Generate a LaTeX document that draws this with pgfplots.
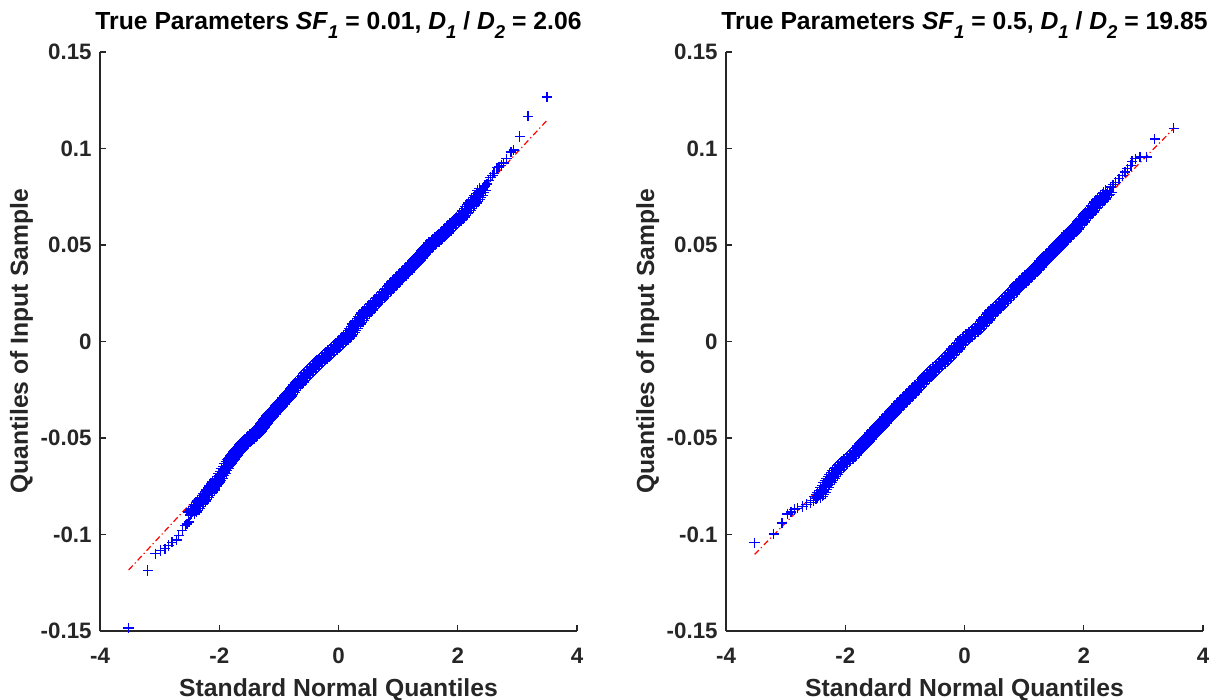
\documentclass[border=0pt]{standalone}
\usepackage{fontspec}
\setmainfont{Liberation Sans}
\usepackage{pgfplots}
\usepackage{pgfplotstable}
\pgfplotsset{compat=1.18}
\definecolor{axgray}{RGB}{38,38,38}
\definecolor{qqblue}{RGB}{0,0,255}
\definecolor{qqred}{RGB}{255,0,0}
\newcommand\sub[1]{\raisebox{-4.5bp}{\fontsize{9.3}{10}\selectfont\bfseries\itshape #1}}

% Left panel: sparse tails and dense middle
\pgfplotstableread{
x y
-3.52 -0.1485
-3.20 -0.1187
-3.07 -0.1100
-2.99 -0.1083
-2.91 -0.1074
-2.85 -0.1057
-2.79 -0.1040
-2.72 -0.1028
-2.68 -0.1005
-2.62 -0.0980
-2.57 -0.0953
-2.54 -0.0945
-2.51 -0.0936
-2.48 -0.0900
2.44 0.0800
2.46 0.0806
2.49 0.0817
2.52 0.0835
2.55 0.0851
2.58 0.0860
2.61 0.0872
2.66 0.0900
2.69 0.0905
2.73 0.0912
2.77 0.0925
2.82 0.0947
2.89 0.0981
2.94 0.0993
3.04 0.1062
3.18 0.1167
3.50 0.1266
}\lefttail
\pgfplotstableread{
x y
-2.45 -0.0883
-2.40 -0.0864
-2.35 -0.0845
-2.30 -0.0827
-2.25 -0.0807
-2.20 -0.0787
-2.15 -0.0769
-2.10 -0.0749
-2.05 -0.0729
-2.00 -0.0709
-1.95 -0.0684
-1.90 -0.0658
-1.85 -0.0633
-1.80 -0.0611
-1.75 -0.0591
-1.70 -0.0571
-1.65 -0.0553
-1.60 -0.0535
-1.55 -0.0520
-1.50 -0.0505
-1.45 -0.0492
-1.40 -0.0479
-1.35 -0.0463
-1.30 -0.0445
-1.25 -0.0425
-1.20 -0.0405
-1.15 -0.0387
-1.10 -0.0369
-1.05 -0.0352
-1.00 -0.0335
-0.95 -0.0317
-0.90 -0.0300
-0.85 -0.0282
-0.80 -0.0264
-0.75 -0.0245
-0.70 -0.0226
-0.65 -0.0209
-0.60 -0.0192
-0.55 -0.0177
-0.50 -0.0161
-0.45 -0.0145
-0.40 -0.0130
-0.35 -0.0115
-0.30 -0.0101
-0.25 -0.0086
-0.20 -0.0071
-0.15 -0.0058
-0.10 -0.0044
-0.05 -0.0031
0.00 -0.0017
0.05 -0.0002
0.10 0.0012
0.15 0.0029
0.20 0.0047
0.25 0.0068
0.30 0.0090
0.35 0.0110
0.40 0.0130
0.45 0.0147
0.50 0.0164
0.55 0.0180
0.60 0.0195
0.65 0.0211
0.70 0.0226
0.75 0.0242
0.80 0.0259
0.85 0.0274
0.90 0.0290
0.95 0.0305
1.00 0.0322
1.05 0.0338
1.10 0.0353
1.15 0.0369
1.20 0.0384
1.25 0.0400
1.30 0.0417
1.35 0.0433
1.40 0.0452
1.45 0.0470
1.50 0.0487
1.55 0.0502
1.60 0.0514
1.65 0.0528
1.70 0.0541
1.75 0.0556
1.80 0.0571
1.85 0.0585
1.90 0.0600
1.95 0.0614
2.00 0.0630
2.05 0.0646
2.10 0.0662
2.15 0.0680
2.20 0.0698
2.25 0.0717
2.30 0.0737
2.35 0.0757
2.40 0.0782
}\leftdense

% Right panel
\pgfplotstableread{
x y
-3.52 -0.1043
-3.20 -0.0997
-3.06 -0.0940
-2.97 -0.0893
-2.91 -0.0884
-2.85 -0.0870
-2.80 -0.0864
-2.72 -0.0855
-2.65 -0.0845
-2.58 -0.0834
-2.53 -0.0824
-2.49 -0.0815
2.45 0.0800
2.49 0.0812
2.53 0.0825
2.59 0.0843
2.65 0.0860
2.69 0.0878
2.73 0.0895
2.79 0.0912
2.81 0.0933
2.87 0.0947
2.94 0.0955
3.05 0.0955
3.19 0.1050
3.51 0.1105
}\righttail
\pgfplotstableread{
x y
-2.45 -0.0802
-2.40 -0.0782
-2.35 -0.0758
-2.30 -0.0732
-2.25 -0.0710
-2.20 -0.0689
-2.15 -0.0669
-2.10 -0.0652
-2.05 -0.0637
-2.00 -0.0622
-1.95 -0.0608
-1.90 -0.0595
-1.85 -0.0580
-1.80 -0.0564
-1.75 -0.0548
-1.70 -0.0532
-1.65 -0.0515
-1.60 -0.0498
-1.55 -0.0482
-1.50 -0.0465
-1.45 -0.0448
-1.40 -0.0432
-1.35 -0.0415
-1.30 -0.0398
-1.25 -0.0382
-1.20 -0.0365
-1.15 -0.0348
-1.10 -0.0331
-1.05 -0.0316
-1.00 -0.0300
-0.95 -0.0284
-0.90 -0.0269
-0.85 -0.0254
-0.80 -0.0239
-0.75 -0.0224
-0.70 -0.0207
-0.65 -0.0190
-0.60 -0.0174
-0.55 -0.0160
-0.50 -0.0145
-0.45 -0.0131
-0.40 -0.0118
-0.35 -0.0104
-0.30 -0.0089
-0.25 -0.0074
-0.20 -0.0057
-0.15 -0.0039
-0.10 -0.0021
-0.05 -0.0004
0.00 0.0012
0.05 0.0026
0.10 0.0037
0.15 0.0049
0.20 0.0061
0.25 0.0077
0.30 0.0094
0.35 0.0112
0.40 0.0131
0.45 0.0148
0.50 0.0164
0.55 0.0179
0.60 0.0193
0.65 0.0208
0.70 0.0223
0.75 0.0238
0.80 0.0253
0.85 0.0270
0.90 0.0287
0.95 0.0302
1.00 0.0317
1.05 0.0332
1.10 0.0346
1.15 0.0361
1.20 0.0377
1.25 0.0394
1.30 0.0410
1.35 0.0427
1.40 0.0443
1.45 0.0457
1.50 0.0473
1.55 0.0489
1.60 0.0505
1.65 0.0522
1.70 0.0538
1.75 0.0553
1.80 0.0567
1.85 0.0583
1.90 0.0601
1.95 0.0619
2.00 0.0638
2.05 0.0656
2.10 0.0672
2.15 0.0689
2.20 0.0706
2.25 0.0722
2.30 0.0738
2.35 0.0755
2.40 0.0772
}\rightdense

\pgfplotsset{qqstyle/.style={
  scale only axis, width=238.5bp, height=289.5bp,
  xmin=-4, xmax=4, ymin=-0.15, ymax=0.15,
  axis x line*=bottom, axis y line*=left,
  axis line style={axgray, line width=0.6bp, -},
  tick align=inside, major tick length=3bp,
  tick style={axgray, line width=0.6bp},
  xtick={-4,-2,0,2,4}, xticklabels={-4,-2,0,2,4},
  ytick={-0.15,-0.1,-0.05,0,0.05,0.1,0.15},
  yticklabels={-0.15,-0.1,-0.05,0,0.05,0.1,0.15},
  ticklabel style={font=\fontsize{11.2}{13}\selectfont\bfseries, text=axgray},
  xticklabel style={anchor=base, yshift=-16bp, inner sep=0pt},
  yticklabel style={anchor=east, xshift=-4bp, inner sep=0pt},
  title style={font=\fontsize{12.4}{14}\selectfont\bfseries, at={(0.5,1)}, anchor=base, yshift=5.5bp, inner sep=0pt},
  xlabel style={font=\fontsize{12.4}{14}\selectfont\bfseries, text=axgray, at={(axis description cs:0.5,0)}, anchor=base, yshift=-32.5bp, inner sep=0pt},
  ylabel style={font=\fontsize{12.4}{14}\selectfont\bfseries, text=axgray, at={([xshift=-36bp]axis description cs:0,0.5)}, anchor=base, inner sep=0pt},
  xlabel={Standard Normal Quantiles},
  ylabel={Quantiles of Input Sample},
  pts/.style={only marks, mark=+, mark size=2.6bp, qqblue, mark options={line width=0.7bp}},
  refl/.style={qqred, line width=0.6bp, dash pattern=on 3bp off 1.5bp on 0.6bp off 1.5bp},
}}
\newcommand\band[1]{%
  \addplot[pts] table {#1};
  \addplot[pts, xshift=-2bp] table {#1};
  \addplot[pts, xshift=2bp] table {#1};
  \addplot[pts, xshift=-1bp, yshift=1bp] table {#1};
  \addplot[pts, xshift=1bp, yshift=-1bp] table {#1};
  \addplot[pts, xshift=-0.8bp, yshift=-0.8bp] table {#1};
  \addplot[pts, xshift=0.8bp, yshift=0.8bp] table {#1};
}
\begin{document}
\begin{tikzpicture}
\path[use as bounding box] (-50bp,-34.5bp) rectangle (556.5bp,315.5bp);
\begin{axis}[qqstyle, at={(0,0)}, anchor=south west,
  title={True Parameters \textit{SF}\sub{1} = 0.01, \textit{D}\sub{1} / \textit{D}\sub{2} = 2.06}]
\addplot[pts] table {\lefttail};
\band{\leftdense}
\addplot[refl] coordinates {(-3.52,-0.1184) (3.50,0.1147)};
\end{axis}
\begin{axis}[qqstyle, at={(313bp,0)}, anchor=south west,
  title={True Parameters \textit{SF}\sub{1} = 0.5, \textit{D}\sub{1} / \textit{D}\sub{2} = 19.85}]
\addplot[pts] table {\righttail};
\band{\rightdense}
\addplot[refl] coordinates {(-3.52,-0.1103) (3.52,0.1107)};
\end{axis}
\end{tikzpicture}
\end{document}
